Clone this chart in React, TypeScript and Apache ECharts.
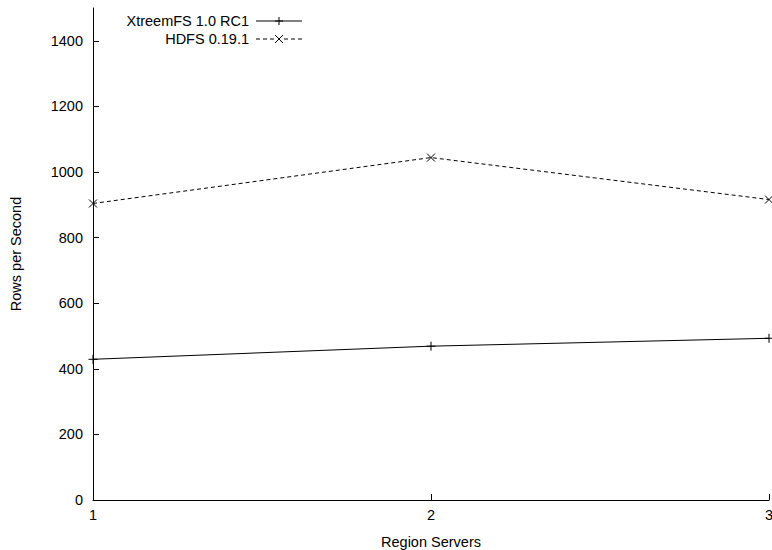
import React, { useEffect, useRef } from "react";
import * as echarts from "echarts";

const seriesNames = ["XtreemFS 1.0 RC1", "HDFS 0.19.1"];
const regionServers = [1, 2, 3];
const xtreemfsRows = [429, 469, 493];
const hdfsRows = [904, 1044, 916];
const yTicks = [0, 200, 400, 600, 800, 1000, 1200, 1400];
const xTicks = [1, 2, 3];

const FONT = "Liberation Sans, Arial, sans-serif";
const FS = 14.5;
const PLUS = "path://M0,5L10,5M5,0L5,10";
const CROSS = "path://M0,0L10,10M10,0L0,10";

export default function App() {
  const ref = useRef<HTMLDivElement>(null);
  useEffect(() => {
    if (!ref.current) return;
    const chart = echarts.init(ref.current, undefined, { renderer: "svg" });
    const legendY = [21, 39];
    const textRight = 249;
    const lx1 = 256;
    const lx2 = 302;
    const mx = 279;
    const graphics: any[] = [];
    seriesNames.forEach((name, i) => {
      const y = legendY[i];
      graphics.push({
        type: "text",
        x: textRight,
        y: y,
        style: { text: name, font: `${FS}px ${FONT}`, fill: "#000", textAlign: "right", textVerticalAlign: "middle" },
      });
      graphics.push({
        type: "line",
        shape: { x1: lx1, y1: y, x2: lx2, y2: y },
        style: { stroke: "#000", lineWidth: 1, lineDash: i === 1 ? [4, 3] : null },
      });
      if (i === 0) {
        graphics.push({ type: "line", shape: { x1: mx - 4, y1: y, x2: mx + 4, y2: y }, style: { stroke: "#000", lineWidth: 1 } });
        graphics.push({ type: "line", shape: { x1: mx, y1: y - 4, x2: mx, y2: y + 4 }, style: { stroke: "#000", lineWidth: 1 } });
      } else {
        graphics.push({ type: "rect", shape: { x: mx - 5, y: y - 5, width: 10, height: 10 }, style: { fill: "#fff" } });
        graphics.push({ type: "line", shape: { x1: mx - 4, y1: y - 4, x2: mx + 4, y2: y + 4 }, style: { stroke: "#000", lineWidth: 1 } });
        graphics.push({ type: "line", shape: { x1: mx + 4, y1: y - 4, x2: mx - 4, y2: y + 4 }, style: { stroke: "#000", lineWidth: 1 } });
      }
    });
    chart.setOption({
      animation: false,
      backgroundColor: "#fff",
      textStyle: { fontFamily: FONT },
      grid: { left: 93, right: 3, top: 8, bottom: 50, containLabel: false, outerBoundsMode: "none" },
      xAxis: {
        type: "value",
        min: 1,
        max: 3,
        interval: 1,
        name: "Region Servers",
        nameLocation: "middle",
        nameGap: 34,
        nameTextStyle: { fontSize: FS, color: "#000", fontFamily: FONT },
        axisLine: { lineStyle: { color: "#000", width: 1 } },
        axisTick: { inside: true, length: 6, lineStyle: { color: "#000" }, customValues: xTicks },
        axisLabel: { color: "#000", fontSize: FS, margin: 7, fontFamily: FONT, customValues: xTicks, formatter: (v: number) => String(v) },
        splitLine: { show: false },
      },
      yAxis: {
        type: "value",
        min: 0,
        max: 1500,
        interval: 100,
        name: "Rows per Second",
        nameLocation: "middle",
        nameGap: 70,
        nameTextStyle: { fontSize: FS, color: "#000", fontFamily: FONT },
        axisLine: { show: true, lineStyle: { color: "#000", width: 1 } },
        axisTick: { show: true, inside: true, length: 6, lineStyle: { color: "#000" }, customValues: yTicks },
        axisLabel: { color: "#000", fontSize: FS, margin: 10, fontFamily: FONT, customValues: yTicks, formatter: (v: number) => String(v) },
        splitLine: { show: false },
      },
      series: [
        {
          name: seriesNames[0],
          type: "line",
          data: regionServers.map((x, i) => [x, xtreemfsRows[i]]),
          symbol: PLUS,
          symbolSize: 9,
          showAllSymbol: true,
          itemStyle: { color: "none", borderColor: "#000", borderWidth: 1 },
          lineStyle: { color: "#000", width: 1 },
        },
        {
          name: seriesNames[1],
          type: "line",
          data: regionServers.map((x, i) => [x, hdfsRows[i]]),
          symbol: CROSS,
          symbolSize: 8,
          itemStyle: { color: "none", borderColor: "#000", borderWidth: 1 },
          lineStyle: { color: "#000", width: 1, type: [4, 3] },
        },
      ],
      graphic: graphics,
    });
    return () => chart.dispose();
  }, []);
  return <div ref={ref} style={{ width: 772, height: 550, position: "absolute", left: 0, top: 0 }} />;
}
